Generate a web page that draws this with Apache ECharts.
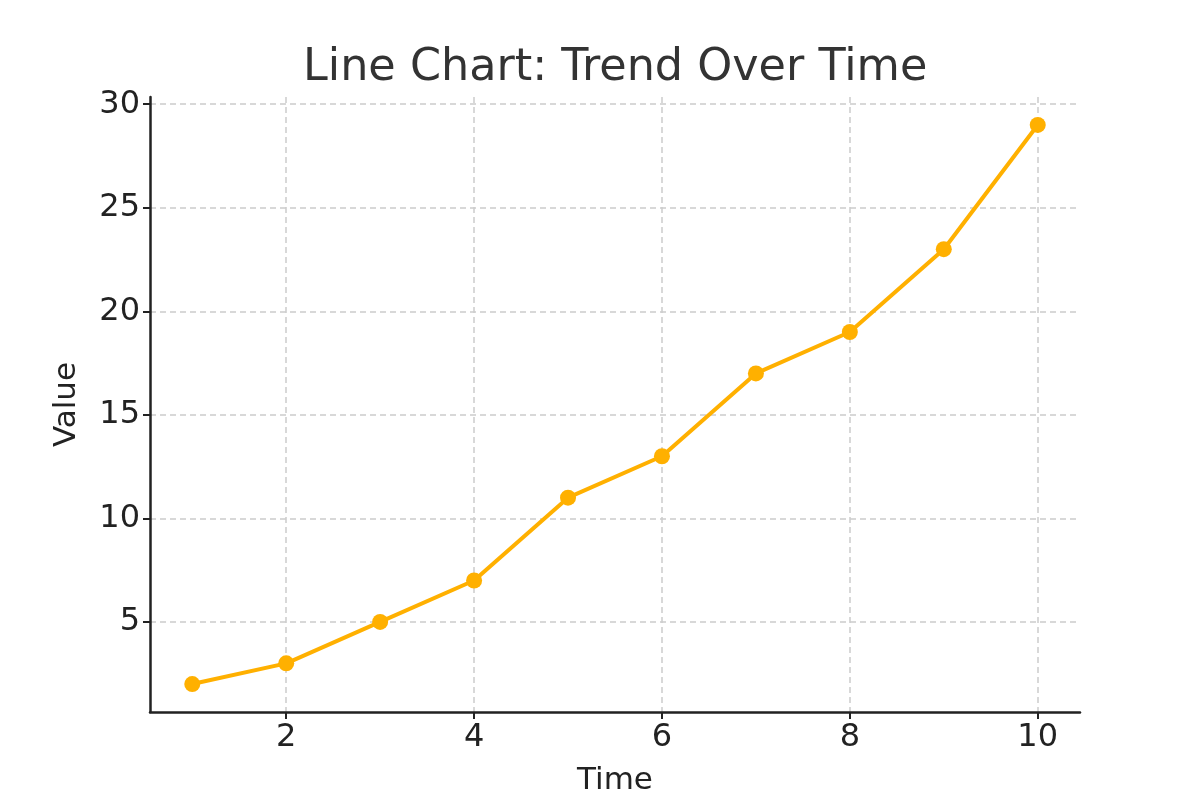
<!DOCTYPE html>
<html>
<head>
<meta charset="utf-8">
<script src="https://cdn.jsdelivr.net/npm/echarts@6/dist/echarts.min.js"></script>
<style>
  html, body { margin: 0; padding: 0; background: #fff; }
  #chart { width: 1200px; height: 800px; }
</style>
</head>
<body>
<div id="chart"></div>
<script>
// 数据
const times = [1, 2, 3, 4, 5, 6, 7, 8, 9, 10];
const values = [2, 3, 5, 7, 11, 13, 17, 19, 23, 29];
const xTicks = [2, 4, 6, 8, 10];
const yTicks = [5, 10, 15, 20, 25, 30];

const chart = echarts.init(document.getElementById("chart"));
const font = "DejaVu Sans";

const axisCommon = {
  type: "value",
  nameLocation: "middle",
  nameTextStyle: { fontFamily: font, fontSize: 31, color: "#222" },
  axisLine: { show: true, lineStyle: { color: "#222", width: 2.5 } },
  axisTick: { show: true, inside: false, length: 7, lineStyle: { color: "#222", width: 2 } },
  axisLabel: { fontFamily: font, fontSize: 32, color: "#222", margin: 10 },
  splitLine: { show: true, lineStyle: { color: "#cccccc", type: [6, 4], width: 1.5 } },
};

chart.setOption({
  animation: false,
  backgroundColor: "#fff",
  title: {
    text: "Line Chart: Trend Over Time",
    left: 298,
    top: 41,
    textStyle: { fontFamily: font, fontSize: 44.5, fontWeight: "normal", color: "#333" },
  },
  grid: { left: 150, right: 120, top: 97, bottom: 88, containLabel: false, outerBoundsMode: "none" },
  xAxis: Object.assign({}, axisCommon, {
    name: "Time",
    nameGap: 53,
    min: 0.55,
    max: 10.45,
    axisTick: Object.assign({}, axisCommon.axisTick, { customValues: xTicks }),
    axisLabel: Object.assign({}, axisCommon.axisLabel, { customValues: xTicks }),
  }),
  yAxis: Object.assign({}, axisCommon, {
    name: "Value",
    nameGap: 68,
    min: 0.65,
    max: 30.35,
    axisTick: Object.assign({}, axisCommon.axisTick, { customValues: yTicks }),
    axisLabel: Object.assign({}, axisCommon.axisLabel, { customValues: yTicks }),
  }),
  series: [
    {
      type: "line",
      data: times.map((t, i) => [t, values[i]]),
      symbol: "circle",
      symbolSize: 16,
      lineStyle: { color: "#FFB000", width: 4 },
      itemStyle: { color: "#FFB000" },
    },
  ],
});
</script>
</body>
</html>
